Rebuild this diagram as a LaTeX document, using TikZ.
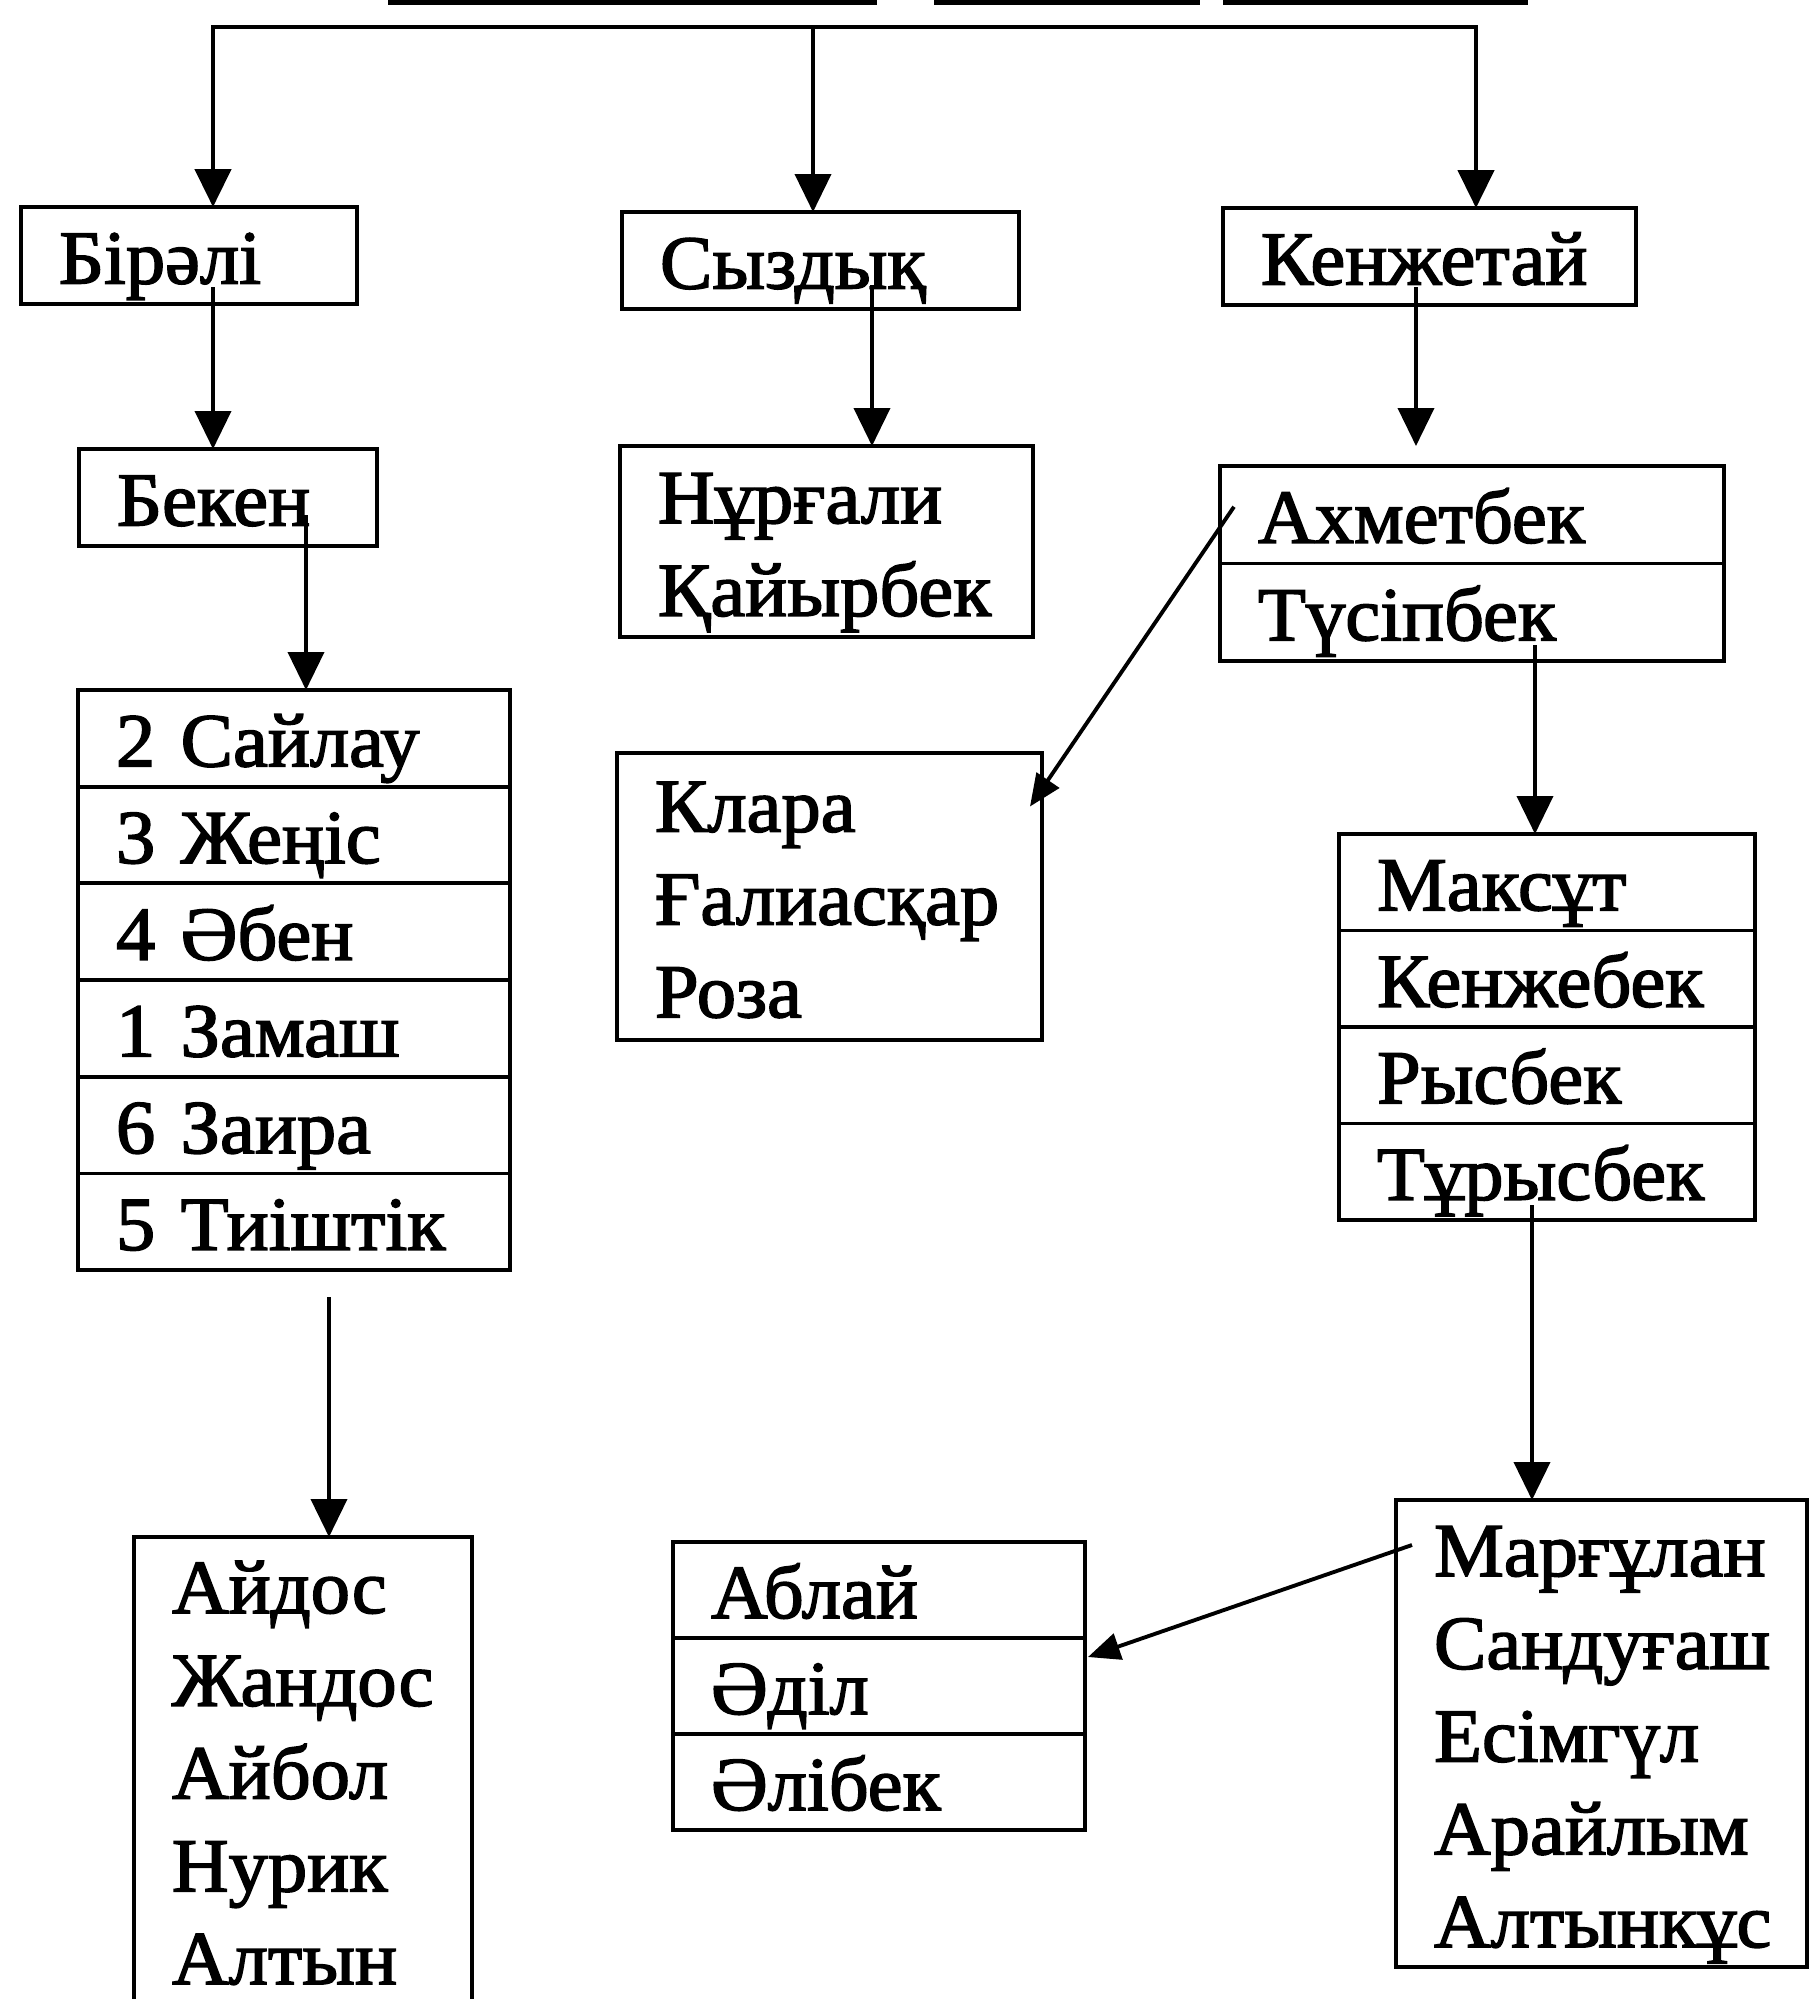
\documentclass[tikz,border=0pt]{standalone}
\usepackage{fontspec}
\setmainfont{Liberation Serif}[FakeBold=2, FakeStretch=1.03]
\usetikzlibrary{arrows.meta,calc}
\setlength{\parindent}{0pt}
\newcommand\tp{\rule{0pt}{0.76cm}}
\newcommand\bt{\rule[-0.2cm]{0pt}{0.2cm}}
\begin{document}
\begin{tikzpicture}[x=1cm,y=-1cm,
  box/.style={draw, line width=1.1pt, anchor=north west, outer sep=0pt, inner xsep=0.38cm, inner ysep=0pt,
    align=left, font=\fontsize{21.7pt}{26.4pt}\selectfont},
  arr/.style={-{Triangle[length=0.38cm,width=0.36cm]}, line width=1.1pt},
  darr/.style={-{Triangle[length=0.32cm,width=0.27cm]}, line width=1.1pt},
  bar/.style={line width=1.6pt}]
\fill[white] (0,0) rectangle (18.09,19.99);
\useasboundingbox (0,0) rectangle (18.09,19.99);

% clipped underline at the very top
\draw[bar] (3.88,0.025) -- (8.77,0.025);
\draw[bar] (9.34,0.025) -- (12.00,0.025);
\draw[bar] (12.23,0.025) -- (15.28,0.025);

% first level
\node[box, minimum width=3.36cm, text width=2.60cm, minimum height=0.97cm] (birali) at (0.21,2.07) {\tp Бірәлі\bt};
\node[box, minimum width=3.97cm, text width=3.21cm, minimum height=0.97cm] (syzdyk) at (6.22,2.12) {\tp Сыздық\bt};
\node[box, minimum width=4.13cm, text width=3.37cm, minimum height=0.97cm] (kenzhe) at (12.23,2.08) {\tp Кенжетай\bt};

% left column
\node[box, minimum width=2.98cm, text width=2.22cm, minimum height=0.97cm] (beken) at (0.79,4.49) {\tp Бекен\bt};
\tikzset{srow/.style={box, minimum width=4.32cm, text width=3.56cm, minimum height=0.967cm}}
\node[srow] (s1) at (0.78,6.90) {\tp 2 Сайлау\bt};
\node[srow] (s2) at (s1.south west) {\tp 3 Жеңіс\bt};
\node[srow] (s3) at (s2.south west) {\tp 4 Әбен\bt};
\node[srow] (s4) at (s3.south west) {\tp 1 Замаш\bt};
\node[srow] (s5) at (s4.south west) {\tp 6 Заира\bt};
\node[srow] (s6) at (s5.south west) {\tp 5 Тиіштік\bt};
\node[box, minimum width=3.38cm, text width=2.62cm, minimum height=4.60cm] (aidos) at (1.34,15.37)
  {\tp Айдос\\Жандос\\Айбол\\Нурик\\Алтын\bt};

% middle column
\node[box, minimum width=4.13cm, text width=3.37cm, minimum height=1.91cm] (nurgali) at (6.20,4.46)
  {\tp Нұрғали\\Қайырбек\bt};
\node[box, minimum width=4.25cm, text width=3.49cm, minimum height=2.87cm] (klara) at (6.17,7.53)
  {\tp Клара\\Ғалиасқар\\Роза\bt};
\tikzset{brow/.style={box, minimum width=4.12cm, text width=3.36cm, minimum height=0.96cm}}
\node[brow] (b1) at (6.73,15.42) {\tp Аблай\bt};
\node[brow] (b2) at (b1.south west) {\tp Әділ\bt};
\node[brow] (b3) at (b2.south west) {\tp Әлібек\bt};

% right column
\tikzset{arow/.style={box, minimum width=5.04cm, text width=4.28cm, minimum height=0.975cm}}
\node[arow] (a1) at (12.20,4.66) {\tp Ахметбек\bt};
\node[arow] (a2) at (a1.south west) {\tp Түсіпбек\bt};
\tikzset{mrow/.style={box, minimum width=4.16cm, text width=3.40cm, minimum height=0.965cm}}
\node[mrow] (m1) at (13.39,8.34) {\tp Максұт\bt};
\node[mrow] (m2) at (m1.south west) {\tp Кенжебек\bt};
\node[mrow] (m3) at (m2.south west) {\tp Рысбек\bt};
\node[mrow] (m4) at (m3.south west) {\tp Тұрысбек\bt};
\node[box, minimum width=4.11cm, text width=3.35cm, minimum height=4.67cm] (margulan) at (13.96,15.00)
  {\tp Марғұлан\\Сандуғаш\\Есімгүл\\Арайлым\\Алтынкұс\bt};

% top distribution line
\coordinate (t1) at (2.13,0.27);
\coordinate (t2) at (8.13,0.27);
\coordinate (t3) at (14.76,0.27);
\draw[{Triangle[length=0.38cm,width=0.36cm]}-{Triangle[length=0.38cm,width=0.36cm]}, line width=1.3pt]
  (t1 |- birali.north) -- (t1) -- (t3) -- (t3 |- kenzhe.north);
\draw[arr] (t2) -- (t2 |- syzdyk.north);

% vertical connectors
\coordinate (c1) at ($(birali.south)+(0.24,-0.17)$);
\draw[arr] (c1) -- (c1 |- beken.north);
\coordinate (c2) at ($(beken.south)+(0.78,-0.31)$);
\draw[arr] (c2) -- (c2 |- s1.north);
\coordinate (c3) at ($(s6.south)+(0.35,0.27)$);
\draw[arr] (c3) -- (c3 |- aidos.north);
\coordinate (c4) at ($(syzdyk.south)+(0.515,-0.24)$);
\draw[arr] (c4) -- (c4 |- nurgali.north);
\coordinate (c5) at ($(kenzhe.south)+(-0.135,-0.18)$);
\draw[arr, shorten >=0.2cm] (c5) -- (c5 |- a1.north);
\coordinate (c6) at ($(a2.south)+(0.63,-0.16)$);
\draw[arr] (c6) -- (c6 |- m1.north);
\coordinate (c7) at ($(m4.south)+(-0.15,-0.15)$);
\draw[arr] (c7) -- (c7 |- margulan.north);

% diagonal connectors
\draw[darr] ($(a1.west)+(0.14,-0.08)$) -- ($(klara.east)+(-0.12,-0.90)$);
\draw[darr] ($(margulan.north west)+(0.16,0.45)$) -- ($(b2.east)+(0.03,-0.29)$);
\end{tikzpicture}
\end{document}
